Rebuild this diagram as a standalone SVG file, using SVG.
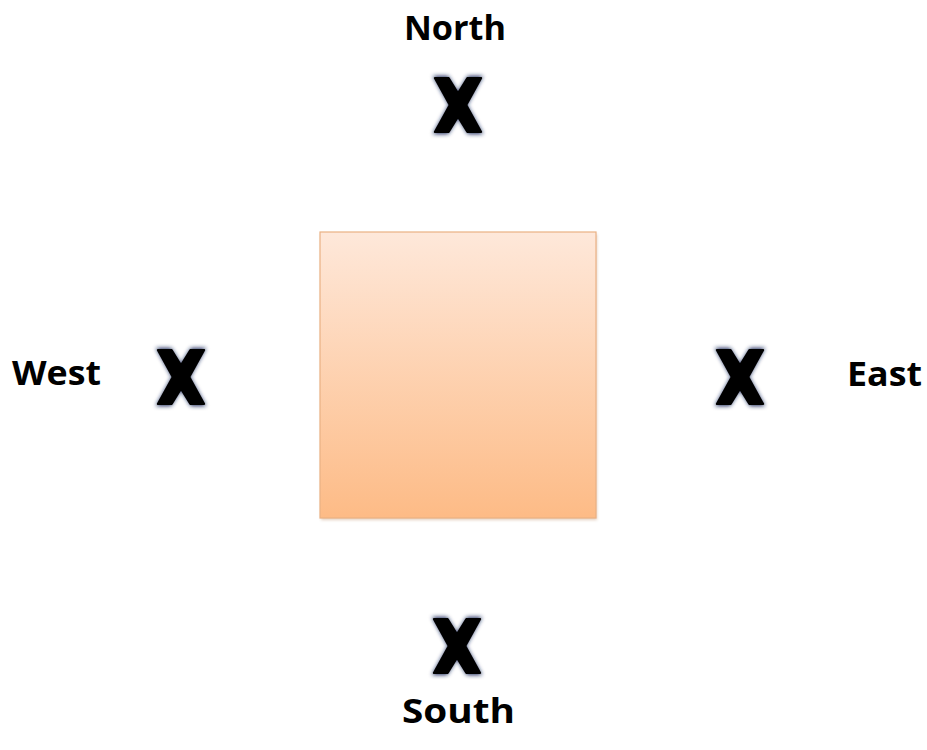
<svg xmlns="http://www.w3.org/2000/svg" width="927" height="750" viewBox="0 0 927 750">
  <defs>
    <linearGradient id="sq" x1="0" y1="0" x2="0" y2="1">
      <stop offset="0" stop-color="#fee8da"/>
      <stop offset="1" stop-color="#fdbb86"/>
    </linearGradient>
    <filter id="glow" x="-30%" y="-30%" width="160%" height="160%">
      <feGaussianBlur stdDeviation="2.2"/>
    </filter>
    <filter id="shadow" x="-5%" y="-5%" width="110%" height="110%">
      <feGaussianBlur stdDeviation="1.5"/>
    </filter>
    <path id="xmark" d="M-25,-29 L-10,-29 L0,-13 L10,-29 L25,-29 L9,0 L25,29 L10,29 L0,13 L-10,29 L-25,29 L-9,0 Z"/>
  </defs>
  <style>
    .lbl { font-family: "Open Sans", "Liberation Sans", sans-serif; font-weight: bold; font-size: 34px; fill: #000; }
    .xg { fill: #1c2c5c; filter: url(#glow); }
    .xb { fill: #000; stroke: #000; stroke-width: 2; stroke-linejoin: round; }
  </style>
  <rect width="927" height="750" fill="#fff"/>
  <g id="square">
    <rect x="321" y="234" width="276" height="286" fill="#c8a080" opacity="0.5" filter="url(#shadow)"/>
    <rect x="320" y="232" width="276" height="286" fill="url(#sq)" stroke="#eab184" stroke-width="1.2"/>
  </g>
  <g id="north">
    <text class="lbl" x="404" y="40" textLength="102" lengthAdjust="spacingAndGlyphs">North</text>
    <use href="#xmark" class="xg" transform="translate(458,105)"/>
    <use href="#xmark" class="xb" transform="translate(458,105) scale(0.93)"/>
  </g>
  <g id="west">
    <text class="lbl" x="12" y="385" textLength="89" lengthAdjust="spacingAndGlyphs">West</text>
    <use href="#xmark" class="xg" transform="translate(181,377)"/>
    <use href="#xmark" class="xb" transform="translate(181,377) scale(0.93)"/>
  </g>
  <g id="east">
    <text class="lbl" x="847" y="386" textLength="75" lengthAdjust="spacingAndGlyphs">East</text>
    <use href="#xmark" class="xg" transform="translate(740,377)"/>
    <use href="#xmark" class="xb" transform="translate(740,377) scale(0.93)"/>
  </g>
  <g id="south">
    <use href="#xmark" class="xg" transform="translate(457,646)"/>
    <use href="#xmark" class="xb" transform="translate(457,646) scale(0.93)"/>
    <text class="lbl" x="402" y="723" textLength="113" lengthAdjust="spacingAndGlyphs">South</text>
  </g>
  <g id="connectors"/>
</svg>
